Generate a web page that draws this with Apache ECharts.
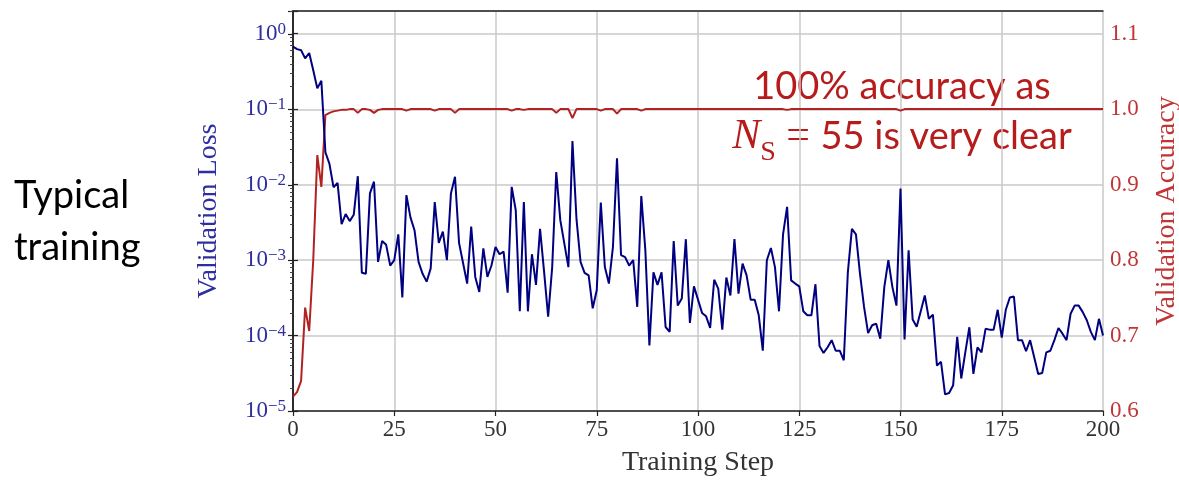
<!DOCTYPE html>
<html>
<head>
<meta charset="utf-8">
<script src="https://cdn.jsdelivr.net/npm/echarts@6/dist/echarts.min.js"></script>
<style>
  html, body { margin: 0; padding: 0; background: #fff; }
  #chart { width: 1179px; height: 482px; }
</style>
</head>
<body>
<div id="chart"></div>
<script>
// validation loss per training step (0..200)
var lossValues = [
  0.68, 0.63, 0.61, 0.475, 0.56, 0.33, 0.19, 0.24, 0.027, 0.019,
  0.0093, 0.0106, 0.0030, 0.0041, 0.0033, 0.0040, 0.013, 0.00068, 0.00066, 0.0077,
  0.011, 0.00095, 0.0018, 0.0016, 0.00085, 0.001, 0.0022, 0.00032, 0.0073, 0.0037,
  0.0025, 0.00095, 0.00066, 0.00052, 0.00078, 0.0059, 0.0017, 0.0024, 0.001, 0.0077,
  0.0128, 0.0017, 0.00091, 0.00049, 0.0028, 0.0006, 0.00038, 0.00144, 0.0006, 0.00085,
  0.0015, 0.0012, 0.0013, 0.00037, 0.0094, 0.0046, 0.00021, 0.0059, 0.00021, 0.0012,
  0.00047, 0.0026, 0.0007, 0.000178, 0.00081, 0.0148, 0.0034, 0.00166, 0.00081, 0.038,
  0.0035, 0.00095, 0.00068, 0.00063, 0.00023, 0.0004, 0.0058, 0.00081, 0.00049, 0.0015,
  0.0224, 0.00117, 0.0011, 0.00085, 0.001, 0.00024, 0.0071, 0.00135, 0.000074, 0.00069,
  0.00047, 0.00069, 0.00013, 0.000112, 0.0018, 0.00025, 0.00031, 0.0019, 0.000147, 0.00045,
  0.0003, 0.0002, 0.00018, 0.000126, 0.00055, 0.00042, 0.00012, 0.00059, 0.00034, 0.0019,
  0.00036, 0.0009, 0.00063, 0.0003, 0.0003, 0.000186, 0.000063, 0.001, 0.00145, 0.00081,
  0.00021, 0.0022, 0.0051, 0.00054, 0.00049, 0.00045, 0.00021, 0.000186, 0.000186, 0.00048,
  0.000073, 0.000059, 0.00007, 0.000087, 0.000063, 0.000063, 0.000047, 0.00069, 0.0026, 0.0022,
  0.00066, 0.00024, 0.000108, 0.000137, 0.000144, 0.000091, 0.00044, 0.001, 0.00044, 0.00025,
  0.0089, 0.000089, 0.00135, 0.000163, 0.000131, 0.00021, 0.00034, 0.000167, 0.00019, 0.00004,
  0.000045, 0.0000166, 0.0000173, 0.000022, 0.000096, 0.000027, 0.00006, 0.000129, 0.000031, 0.00007,
  0.00006, 0.000123, 0.00012, 0.00012, 0.00022, 0.000094, 0.00022, 0.00032, 0.00033, 0.000087,
  0.000087, 0.000062, 0.000087, 0.000052, 0.000031, 0.000032, 0.00006, 0.000063, 0.000087, 0.000126,
  0.000106, 0.000087, 0.000195, 0.00025, 0.00025, 0.000205, 0.00016, 0.000112, 0.000087, 0.000167,
  0.0001
];

// validation accuracy per training step
var accValues = [
  0.619, 0.625, 0.64, 0.737, 0.706, 0.80, 0.939, 0.897, 0.992, 0.995,
  0.997, 0.998, 0.999, 0.999, 1, 1, 0.995, 1, 1, 0.999,
  0.995, 0.999, 1, 1, 1, 1, 1, 1, 0.998, 1,
  1, 1, 1, 1, 1, 0.998, 1, 1, 1, 1,
  0.995, 1, 1, 1, 1, 1, 1, 1, 1, 1,
  1, 1, 1, 1, 0.998, 1, 1, 0.999, 1, 1,
  1, 1, 1, 1, 1, 0.995, 1, 1, 1, 0.988,
  1, 1, 1, 1, 1, 1, 0.998, 1, 1, 1,
  0.994, 1, 1, 1, 1, 1, 0.998, 1, 1, 1,
  1, 1, 1, 1, 1, 1, 1, 1, 1, 1,
  1, 1, 1, 1, 1, 1, 1, 1, 1, 1,
  1, 1, 1, 1, 1, 1, 1, 1, 1, 1,
  1, 1, 0.999, 1, 1, 1, 1, 1, 1, 1,
  1, 1, 1, 1, 1, 1, 1, 1, 1, 1,
  1, 1, 1, 1, 1, 1, 1, 1, 1, 1,
  0.998, 1, 1, 1, 1, 1, 1, 1, 1, 1,
  1, 1, 1, 1, 1, 1, 1, 1, 1, 1,
  1, 1, 1, 1, 1, 1, 1, 1, 1, 1,
  1, 1, 1, 1, 1, 1, 1, 1, 1, 1,
  1, 1, 1, 1, 1, 1, 1, 1, 1, 1,
  1
];

var xTicks = [0, 25, 50, 75, 100, 125, 150, 175, 200];
var accTicks = [0.6, 0.7, 0.8, 0.9, 1.0, 1.1];

var serif = '"Liberation Serif", "DejaVu Serif", serif';
var sans = 'Lato, "Open Sans", sans-serif';
var blueText = '#2e2ea0';
var redText = '#c03535';
var noteRed = '#b71c1c';

var lossData = lossValues.map(function (v, i) { return [i, v]; });
var accData = accValues.map(function (v, i) { return [i, v]; });

var myChart = echarts.init(document.getElementById('chart'));

myChart.setOption({
  animation: false,
  grid: {
    left: 293,
    right: 76,
    top: 11,
    bottom: 71,
    outerBoundsMode: 'none',
    containLabel: false
  },
  xAxis: [{
    type: 'value',
    min: 0,
    max: 200,
    interval: 25,
    name: 'Training Step',
    nameLocation: 'middle',
    nameGap: 38,
    nameTextStyle: { fontFamily: serif, fontSize: 28, color: '#333' },
    axisLine: { lineStyle: { color: '#222', width: 1.5 } },
    axisTick: { length: 5, lineStyle: { color: '#222', width: 1.2 } },
    axisLabel: {
      fontFamily: serif, fontSize: 23, color: '#333', margin: 7,
      formatter: function (v) { return xTicks.indexOf(v) >= 0 ? String(v) : ''; }
    },
    splitLine: { show: true, lineStyle: { color: '#c8c8c8', width: 1.5 } }
  }, {
    // top frame line only
    type: 'value',
    position: 'top',
    min: 0,
    max: 200,
    axisLine: { show: true, lineStyle: { color: '#222', width: 1.5 } },
    axisTick: { show: false },
    axisLabel: { show: false },
    splitLine: { show: false }
  }],
  yAxis: [{
    type: 'log',
    min: 1e-5,
    max: 2.02,
    name: 'Validation Loss',
    nameLocation: 'middle',
    nameGap: 70,
    nameTextStyle: { fontFamily: serif, fontSize: 28, color: blueText },
    axisLine: { show: true, lineStyle: { color: '#222', width: 1.5 } },
    axisTick: { length: 5, lineStyle: { color: '#222', width: 1.2 } },
    minorTick: { show: true, splitNumber: 9, length: 3, lineStyle: { color: '#444' } },
    axisLabel: {
      margin: 7,
      formatter: function (v) {
        var e = Math.log(v) / Math.LN10;
        var r = Math.round(e);
        if (Math.abs(e - r) > 1e-6) return '';
        return '{b|10}{s|' + (r < 0 ? '\u2212' + (-r) : r) + '}';
      },
      rich: {
        b: { fontFamily: serif, fontSize: 23, color: blueText, lineHeight: 26 },
        s: { fontFamily: serif, fontSize: 17, color: blueText, lineHeight: 17, verticalAlign: 'top' }
      }
    },
    splitLine: { show: true, lineStyle: { color: '#c8c8c8', width: 1.5 } }
  }, {
    type: 'value',
    min: 0.6,
    max: 1.13,
    interval: 0.1,
    position: 'right',
    name: 'Validation Accuracy',
    nameLocation: 'middle',
    nameGap: 50,
    nameRotate: 90,
    nameTextStyle: { fontFamily: serif, fontSize: 28, color: redText },
    axisLine: { show: true, lineStyle: { color: '#222', width: 1.5 } },
    axisTick: { length: 5, lineStyle: { color: '#222', width: 1.2 } },
    axisLabel: {
      fontFamily: serif, fontSize: 23, color: redText, margin: 7,
      formatter: function (v) {
        for (var i = 0; i < accTicks.length; i++) {
          if (Math.abs(v - accTicks[i]) < 1e-6) return accTicks[i].toFixed(1);
        }
        return '';
      }
    },
    splitLine: { show: false }
  }],
  series: [{
    name: 'Validation Loss',
    type: 'line',
    yAxisIndex: 0,
    data: lossData,
    showSymbol: false,
    lineStyle: { color: '#000080', width: 2 },
    z: 3
  }, {
    name: 'Validation Accuracy',
    type: 'line',
    yAxisIndex: 1,
    data: accData,
    showSymbol: false,
    lineStyle: { color: '#b22222', width: 2 },
    z: 2
  }],
  graphic: [{
    type: 'text',
    left: 14,
    top: 170,
    style: {
      text: 'Typical\ntraining',
      fontFamily: sans,
      fontSize: 38,
      lineHeight: 52,
      fill: '#000'
    }
  }, {
    type: 'text',
    x: 902,
    y: 87,
    style: {
      text: '100% accuracy as',
      fontFamily: sans,
      fontSize: 38,
      fill: noteRed,
      align: 'center',
      verticalAlign: 'middle'
    }
  }, {
    type: 'text',
    x: 902,
    y: 137,
    style: {
      text: '{n|N}{sub|S}{eq| = }{t|55 is very clear}',
      align: 'center',
      verticalAlign: 'middle',
      rich: {
        n: { fontFamily: serif, fontStyle: 'italic', fontSize: 42, fill: noteRed, lineHeight: 44 },
        sub: { fontFamily: serif, fontSize: 28, fill: noteRed, lineHeight: 22, verticalAlign: 'bottom', padding: [0, 0, -8, 0] },
        eq: { fontFamily: serif, fontSize: 42, fill: noteRed, lineHeight: 44 },
        t: { fontFamily: sans, fontSize: 38, fill: noteRed, lineHeight: 44 }
      }
    }
  }]
});
</script>
</body>
</html>
